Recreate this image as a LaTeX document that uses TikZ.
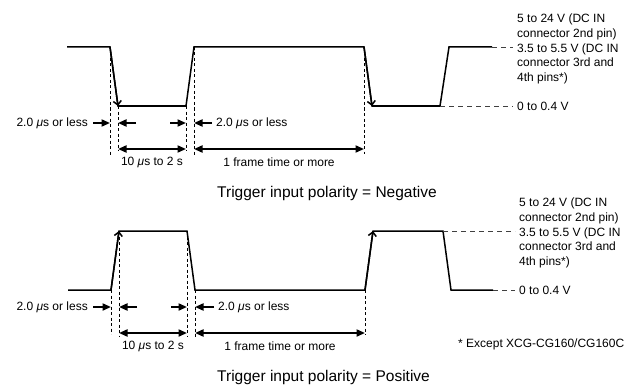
\documentclass[tikz,border=0pt]{standalone}
\usepackage{fontspec}
\setmainfont{Liberation Sans}
\usetikzlibrary{arrows.meta}
\begin{document}
\begin{tikzpicture}[x=1pt,y=-1pt,
  wave/.style={line width=1.5pt, line join=miter},
  edgearrow/.style={line width=1.5pt, -{Straight Barb[length=4pt,width=8pt]}},
  guide/.style={line width=0.8pt, dash pattern=on 3pt off 2.5pt},
  level/.style={line width=0.9pt, black!75, dash pattern=on 5pt off 4pt},
  dimarrow/.style={line width=2pt, -{Triangle[length=8.5pt,width=7pt]}},
  dimboth/.style={line width=2pt, {Triangle[length=8.5pt,width=7pt]}-{Triangle[length=8.5pt,width=7pt]}},
  lbl/.style={font=\fontsize{12}{14.7}\selectfont, inner sep=0pt},
  captext/.style={font=\fontsize{15.5}{18}\selectfont, inner sep=0pt}]
\useasboundingbox (0,0) rectangle (628,385);

% ---------------- Negative polarity ----------------
\coordinate (a0) at (67,47);
\coordinate (a1) at (110,47);
\coordinate (a2) at (118,106);
\coordinate (a3) at (186,106);
\coordinate (a4) at (194,47);
\coordinate (a5) at (364,47);
\coordinate (a6) at (372,106);
\coordinate (a7) at (440,106);
\coordinate (a8) at (449,47);
\coordinate (a9) at (492,47);
\draw[wave] (a0) -- (a1) -- (a2) -- (a3) -- (a4) -- (a5) -- (a6) -- (a7) -- (a8) -- (a9);
\draw[edgearrow] (a1) -- (a2);
\draw[edgearrow] (a5) -- (a6);

\draw[guide] (a1) -- ++(0,108);
\draw[guide] (a2) -- ++(0,45);
\draw[guide] (a3) -- ++(0,45);
\draw[guide] (a4) -- ++(0,108);
\draw[guide] (a5) -- ++(0,107);

\node[lbl, anchor=west, align=left] (hiA) at (517,49)
  {5 to 24 V (DC IN\\connector 2nd pin)\\3.5 to 5.5 V (DC IN\\connector 3rd and\\4th pins*)};
\node[lbl, anchor=west] (loA) at (517,106) {0 to 0.4 V};
\draw[level] (a9) -- ([xshift=-4pt]hiA.west |- a9);
\draw[level] (a7) -- ([xshift=-4pt]loA.west);

\node[lbl, anchor=east] (dA1) at (88,123) {2.0 \textit{μ}s or less};
\node[lbl, anchor=west] (dA2) at (216,123) {2.0 \textit{μ}s or less};
\coordinate (mA1) at (136,123);
\coordinate (mA2) at (170,123);
\draw[dimarrow] ([xshift=5pt]dA1.east) -- (a1 |- dA1.east);
\draw[dimarrow] (mA1) -- (a2 |- mA1);
\draw[dimarrow] (mA2) -- (a3 |- mA2);
\draw[dimarrow] ([xshift=-4pt]dA2.west) -- (a4 |- dA2.west);

\coordinate (rA) at (0,149);
\draw[dimboth] (a2 |- rA) -- (a3 |- rA);
\draw[dimboth] (a4 |- rA) -- (a5 |- rA);
\node[lbl] (wA) at (152,162) {10 \textit{μ}s to 2 s};
\node[lbl] (fA) at (279,162) {1 frame time or more};

\node[captext, anchor=west] (capA) at (217,193) {Trigger input polarity = Negative};

% ---------------- Positive polarity ----------------
\coordinate (b0) at (68,290);
\coordinate (b1) at (111,290);
\coordinate (b2) at (119,231);
\coordinate (b3) at (187,231);
\coordinate (b4) at (195,290);
\coordinate (b5) at (365,290);
\coordinate (b6) at (373,231);
\coordinate (b7) at (443,231);
\coordinate (b8) at (451,290);
\coordinate (b9) at (493,290);
\draw[wave] (b0) -- (b1) -- (b2) -- (b3) -- (b4) -- (b5) -- (b6) -- (b7) -- (b8) -- (b9);
\draw[edgearrow] (b1) -- (b2);
\draw[edgearrow] (b5) -- (b6);

\draw[guide] (b1) -- ++(0,44);
\draw[guide] (b2) -- ++(0,106);
\draw[guide] (b3) -- ++(0,106);
\draw[guide] (b4) -- ++(0,47);
\draw[guide] (b5) -- ++(0,45);

\node[lbl, anchor=west, align=left] (hiB) at (519,233)
  {5 to 24 V (DC IN\\connector 2nd pin)\\3.5 to 5.5 V (DC IN\\connector 3rd and\\4th pins*)};
\node[lbl, anchor=west] (loB) at (519,290) {0 to 0.4 V};
\draw[level] (b7) -- ([xshift=-4pt]hiB.west |- b7);
\draw[level] (b9) -- ([xshift=-4pt]loB.west);

\node[lbl, anchor=east] (dB1) at (88,307) {2.0 \textit{μ}s or less};
\node[lbl, anchor=west] (dB2) at (218,307) {2.0 \textit{μ}s or less};
\coordinate (mB1) at (137,307);
\coordinate (mB2) at (171,307);
\draw[dimarrow] ([xshift=5pt]dB1.east) -- (b1 |- dB1.east);
\draw[dimarrow] (mB1) -- (b2 |- mB1);
\draw[dimarrow] (mB2) -- (b3 |- mB2);
\draw[dimarrow] ([xshift=-4pt]dB2.west) -- (b4 |- dB2.west);

\coordinate (rB) at (0,333);
\draw[dimboth] (b2 |- rB) -- (b3 |- rB);
\draw[dimboth] (b4 |- rB) -- (b5 |- rB);
\node[lbl] (wB) at (153,346) {10 \textit{μ}s to 2 s};
\node[lbl] (fB) at (280,346) {1 frame time or more};

\node[lbl, anchor=west] (note) at (458,344) {* Except XCG-CG160/CG160C};
\node[captext, anchor=west] (capB) at (217,377) {Trigger input polarity = Positive};
\end{tikzpicture}
\end{document}
